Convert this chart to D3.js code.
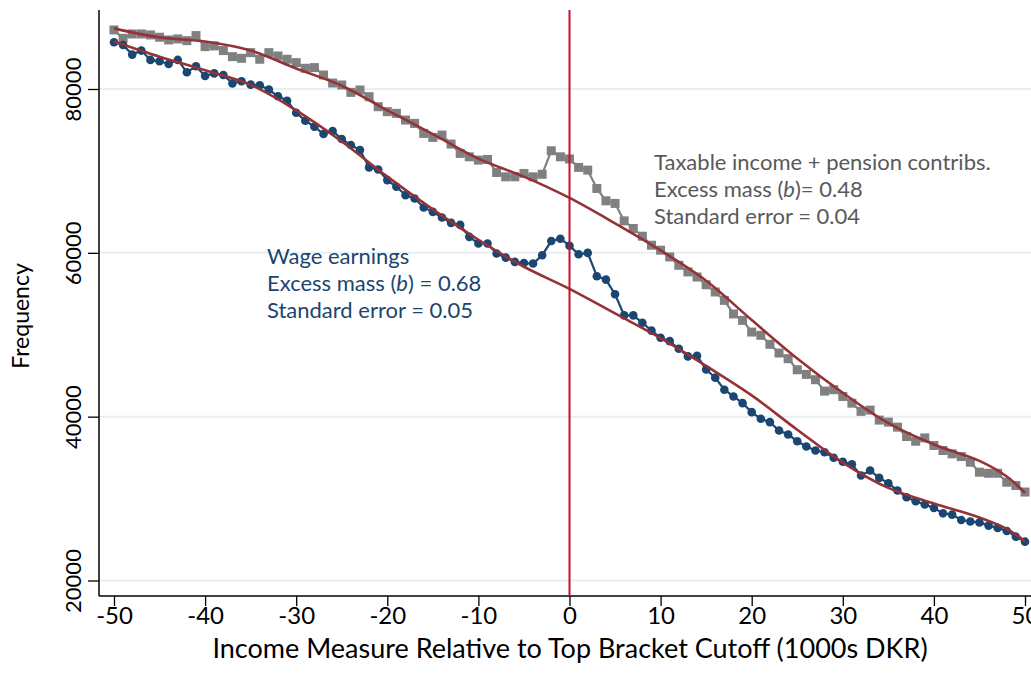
<!DOCTYPE html>
<html>
<head>
<meta charset="utf-8">
<script src="https://cdn.jsdelivr.net/npm/d3@7"></script>
<style>
  html, body { margin: 0; padding: 0; background: #ffffff; }
  svg { display: block; font-family: Lato, "Open Sans", sans-serif; }
</style>
</head>
<body>
<svg id="chart" width="1031" height="686"></svg>
<script>
// Income bins (1000s DKR relative to cutoff)
const bins = [-50,-49,-48,-47,-46,-45,-44,-43,-42,-41,-40,-39,-38,-37,-36,-35,-34,-33,-32,-31,
  -30,-29,-28,-27,-26,-25,-24,-23,-22,-21,-20,-19,-18,-17,-16,-15,-14,-13,-12,-11,
  -10,-9,-8,-7,-6,-5,-4,-3,-2,-1,0,1,2,3,4,5,6,7,8,9,
  10,11,12,13,14,15,16,17,18,19,20,21,22,23,24,25,26,27,28,29,
  30,31,32,33,34,35,36,37,38,39,40,41,42,43,44,45,46,47,48,49,50];

// Wage earnings frequencies
const wageFreq = [85710,85380,84200,84690,83550,83380,83060,83550,82040,82770,
  81590,81910,81710,80690,80940,80530,80450,79920,79110,78570,
  77100,76130,75390,74500,74880,73890,73160,72540,70430,70180,
  68880,68060,67040,66640,65540,65000,64310,63660,63410,61950,
  61140,61140,59910,59420,58900,58750,58690,59710,61440,61720,
  60870,59830,59990,57140,56730,54940,52370,52370,51460,50500,
  49630,49220,48290,47360,47440,45750,44760,43290,42470,41650,
  40550,39740,39330,38310,37820,37000,36360,35870,35660,34980,
  34500,34200,32810,33420,32530,31870,30980,30160,29670,29270,
  28860,28200,28040,27380,27210,27090,26700,26420,26050,25350,24740];

// Taxable income + pension contributions frequencies
const taxFreq = [87210,86190,86720,86720,86600,86320,85990,86110,85900,86520,
  85170,85260,84690,83950,83750,84440,83630,84440,84030,83630,
  83220,82530,82610,81710,80730,80490,79590,79880,79060,77840,
  77230,77030,76210,75800,74580,74090,74380,73280,72140,71720,
  71320,71400,69810,69280,69280,69690,69280,69590,72460,71720,
  71460,70430,70100,67860,66350,66030,63900,62970,62030,60930,
  60320,59500,58480,57670,57050,56100,55220,54200,52540,51760,
  50330,49930,48830,47770,47080,45730,45160,44510,43120,43290,
  42470,41650,40650,40800,39580,39330,38720,37580,37000,37410,
  36480,35870,35460,35130,34440,33220,33090,33090,32000,31590,30800];

// Counterfactual polynomial fits (knots)
const fitX = [-50,-45,-40,-35,-30,-25,-20,-15,-10,-5,0,5,10,15,20,25,30,35,40,45,48,50];
const wageFit = [85800,83950,82300,80500,77400,73600,69300,65300,61600,58300,55600,52600,49600,46200,42600,38400,34400,31300,29400,27700,26300,24800];
const taxFit = [87400,86300,85800,84700,82500,80400,77400,74500,71500,69300,66700,63600,60300,56600,51800,47100,42900,39200,36600,34600,32700,30700];

const xTicks = [-50,-40,-30,-20,-10,0,10,20,30,40,50];
const yTicks = [20000,40000,60000,80000];
const cutoff = 0;

const svg = d3.select("#chart");
const x = d3.scaleLinear().domain([-50, 50]).range([114, 1025]);
const y = d3.scaleLinear().domain([20000, 80000]).range([580.5, 89]);
const pLeft = 99, pRight = 1031, pTop = 10, pBottom = 596;

// gridlines
svg.append("g").selectAll("line").data(yTicks).join("line")
  .attr("x1", pLeft).attr("x2", pRight)
  .attr("y1", d => y(d)).attr("y2", d => y(d))
  .attr("stroke", "#e8eff3").attr("stroke-width", 2);

// axes lines
svg.append("line").attr("x1", pLeft).attr("x2", pLeft).attr("y1", pTop).attr("y2", pBottom)
  .attr("stroke", "#000").attr("stroke-width", 1.5);
svg.append("line").attr("x1", pLeft).attr("x2", pRight).attr("y1", pBottom).attr("y2", pBottom)
  .attr("stroke", "#000").attr("stroke-width", 1.5);

// x axis
const xAxis = svg.append("g").attr("transform", `translate(0,${pBottom})`)
  .call(d3.axisBottom(x).tickValues(xTicks).tickSize(10).tickPadding(1).tickFormat(d3.format("d")));
xAxis.select(".domain").remove();
xAxis.selectAll(".tick line").attr("stroke", "#000").attr("stroke-width", 1.3);
xAxis.selectAll(".tick text").attr("font-size", 24).attr("fill", "#000")
  .attr("font-family", "Lato, sans-serif").text(d => d < 0 ? "-" + Math.abs(d) : d);

// y axis
const yAxis = svg.append("g").attr("transform", `translate(${pLeft},0)`)
  .call(d3.axisLeft(y).tickValues(yTicks).tickSize(11).tickFormat(d3.format("d")));
yAxis.select(".domain").remove();
yAxis.selectAll(".tick line").attr("stroke", "#000").attr("stroke-width", 1.3);
yAxis.selectAll(".tick text")
  .attr("font-size", 22).attr("fill", "#000").attr("font-family", "Lato, sans-serif")
  .attr("x", 0).attr("dy", 0).attr("y", -18)
  .attr("transform", "rotate(-90)")
  .attr("text-anchor", "middle");

// axis titles
svg.append("text").attr("x", 570).attr("y", 658).attr("text-anchor", "middle")
  .attr("font-size", 27).attr("fill", "#000")
  .text("Income Measure Relative to Top Bracket Cutoff (1000s DKR)");
svg.append("text").attr("transform", "translate(29,316) rotate(-90)").attr("text-anchor", "middle")
  .attr("font-size", 23).attr("fill", "#000").text("Frequency");

const line = (ys) => d3.line().x((d, i) => x(bins[i])).y(d => y(d))(ys);
const fitLine = (ys) => d3.line().curve(d3.curveCatmullRom.alpha(0.5))
  .x((d, i) => x(fitX[i])).y(d => y(d))(ys);

// taxable income series (gray squares)
svg.append("path").attr("d", line(taxFreq)).attr("fill", "none")
  .attr("stroke", "#808080").attr("stroke-width", 2.2);
svg.append("g").selectAll("rect").data(taxFreq).join("rect")
  .attr("x", (d, i) => x(bins[i]) - 4.5).attr("y", d => y(d) - 4.5)
  .attr("width", 9).attr("height", 9).attr("fill", "#808080");

// wage series (blue circles)
svg.append("path").attr("d", line(wageFreq)).attr("fill", "none")
  .attr("stroke", "#1a4672").attr("stroke-width", 2.2);
svg.append("g").selectAll("circle").data(wageFreq).join("circle")
  .attr("cx", (d, i) => x(bins[i])).attr("cy", d => y(d))
  .attr("r", 4.3).attr("fill", "#1a4672");

// fitted counterfactuals
svg.append("path").attr("d", fitLine(taxFit)).attr("fill", "none")
  .attr("stroke", "#943236").attr("stroke-width", 2.6);
svg.append("path").attr("d", fitLine(wageFit)).attr("fill", "none")
  .attr("stroke", "#943236").attr("stroke-width", 2.6);

// cutoff line
svg.append("line").attr("x1", x(cutoff)).attr("x2", x(cutoff)).attr("y1", pTop).attr("y2", pBottom)
  .attr("stroke", "#c8102e").attr("stroke-width", 2);

// annotations
function annot(xp, y0, lines, color) {
  const t = svg.append("text").attr("font-size", 22).attr("fill", color);
  lines.forEach((ln, i) => {
    const ts = t.append("tspan").attr("x", xp).attr("y", y0 + i * 27);
    ln.forEach(part => {
      ts.append("tspan").attr("font-style", part.i ? "italic" : null).text(part.t);
    });
  });
}
annot(267, 264, [
  [{t: "Wage earnings"}],
  [{t: "Excess mass ("}, {t: "b", i: true}, {t: ") = 0.68"}],
  [{t: "Standard error = 0.05"}]
], "#1a4672");
annot(654, 170, [
  [{t: "Taxable income + pension contribs."}],
  [{t: "Excess mass ("}, {t: "b", i: true}, {t: ")= 0.48"}],
  [{t: "Standard error = 0.04"}]
], "#595959");
</script>
</body>
</html>
